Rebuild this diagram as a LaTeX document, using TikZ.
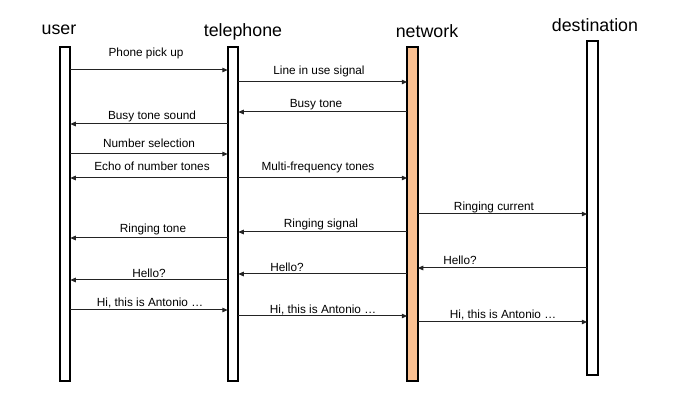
\documentclass[tikz,border=0pt]{standalone}
\usepackage{fontspec}
\setmainfont{Liberation Sans}
\usetikzlibrary{arrows.meta}
\definecolor{netfill}{RGB}{250,192,145}
\definecolor{msgcol}{RGB}{35,35,35}
\tikzset{
  lifeline/.style={draw=black, line width=2.2pt, fill=white, inner sep=0pt, outer sep=0pt, minimum width=10.5pt},
  actor/.style={anchor=base, font=\fontsize{17.8pt}{20pt}\selectfont, inner sep=0pt},
  msg/.style={draw=msgcol, line width=1pt, -{Triangle[length=5.5pt,width=4.5pt]}},
  lbl/.style={anchor=base, font=\fontsize{11.8pt}{14pt}\selectfont, inner sep=0pt, text=black}
}
\begin{document}
\begin{tikzpicture}[x=1pt,y=-1pt]
\useasboundingbox (0,0) rectangle (686,406);
% lifelines
\node[lifeline, minimum height=334pt] (user) at (65,214) {};
\node[lifeline, minimum height=334pt] (tel) at (233,214) {};
\node[lifeline, minimum height=334pt, fill=netfill] (net) at (412.5,214) {};
\node[lifeline, minimum height=334pt] (dest) at (592.5,208) {};
% titles
\node[actor] (tuser) at (59,35) {user};
\node[actor] (ttel) at (243,37) {telephone};
\node[actor] (tnet) at (427,38) {network};
\node[actor] (tdest) at (595,32) {destination};
% messages
\draw[msg] (user.east |- 0,70) -- (tel.west |- 0,70);
\node[lbl] (m1) at (146,57) {Phone pick up};
\draw[msg] (tel.east |- 0,82) -- (net.west |- 0,82);
\node[lbl] (m2) at (319,75) {Line in use signal};
\draw[msg] (net.west |- 0,112) -- (tel.east |- 0,112);
\node[lbl] (m3) at (316,108) {Busy tone};
\draw[msg] (tel.west |- 0,124) -- (user.east |- 0,124);
\node[lbl] (m4) at (152,120) {Busy tone sound};
\draw[msg] (user.east |- 0,154) -- (tel.west |- 0,154);
\node[lbl] (m5) at (149,148) {Number selection};
\draw[msg] (tel.west |- 0,178) -- (user.east |- 0,178);
\node[lbl] (m6) at (152,171) {Echo of number tones};
\draw[msg] (tel.east |- 0,178) -- (net.west |- 0,178);
\node[lbl] (m7) at (318,171) {Multi-frequency tones};
\draw[msg] (net.east |- 0,214) -- (dest.west |- 0,214);
\node[lbl] (m8) at (494,210.5) {Ringing current};
\draw[msg] (net.west |- 0,232) -- (tel.east |- 0,232);
\node[lbl] (m9) at (321,227.5) {Ringing signal};
\draw[msg] (tel.west |- 0,238) -- (user.east |- 0,238);
\node[lbl] (m10) at (153,233) {Ringing tone};
\draw[msg] (dest.west |- 0,268) -- (net.east |- 0,268);
\node[lbl] (m11) at (460,265) {Hello?};
\draw[msg] (net.west |- 0,274) -- (tel.east |- 0,274);
\node[lbl] (m12) at (287,272) {Hello?};
\draw[msg] (tel.west |- 0,280) -- (user.east |- 0,280);
\node[lbl] (m13) at (149,278) {Hello?};
\draw[msg] (user.east |- 0,310) -- (tel.west |- 0,310);
\node[lbl] (m14) at (150,307) {Hi, this is Antonio \dots};
\draw[msg] (tel.east |- 0,316) -- (net.west |- 0,316);
\node[lbl] (m15) at (323,313) {Hi, this is Antonio \dots};
\draw[msg] (net.east |- 0,322) -- (dest.west |- 0,322);
\node[lbl] (m16) at (503,319) {Hi, this is Antonio \dots};
\end{tikzpicture}
\end{document}
